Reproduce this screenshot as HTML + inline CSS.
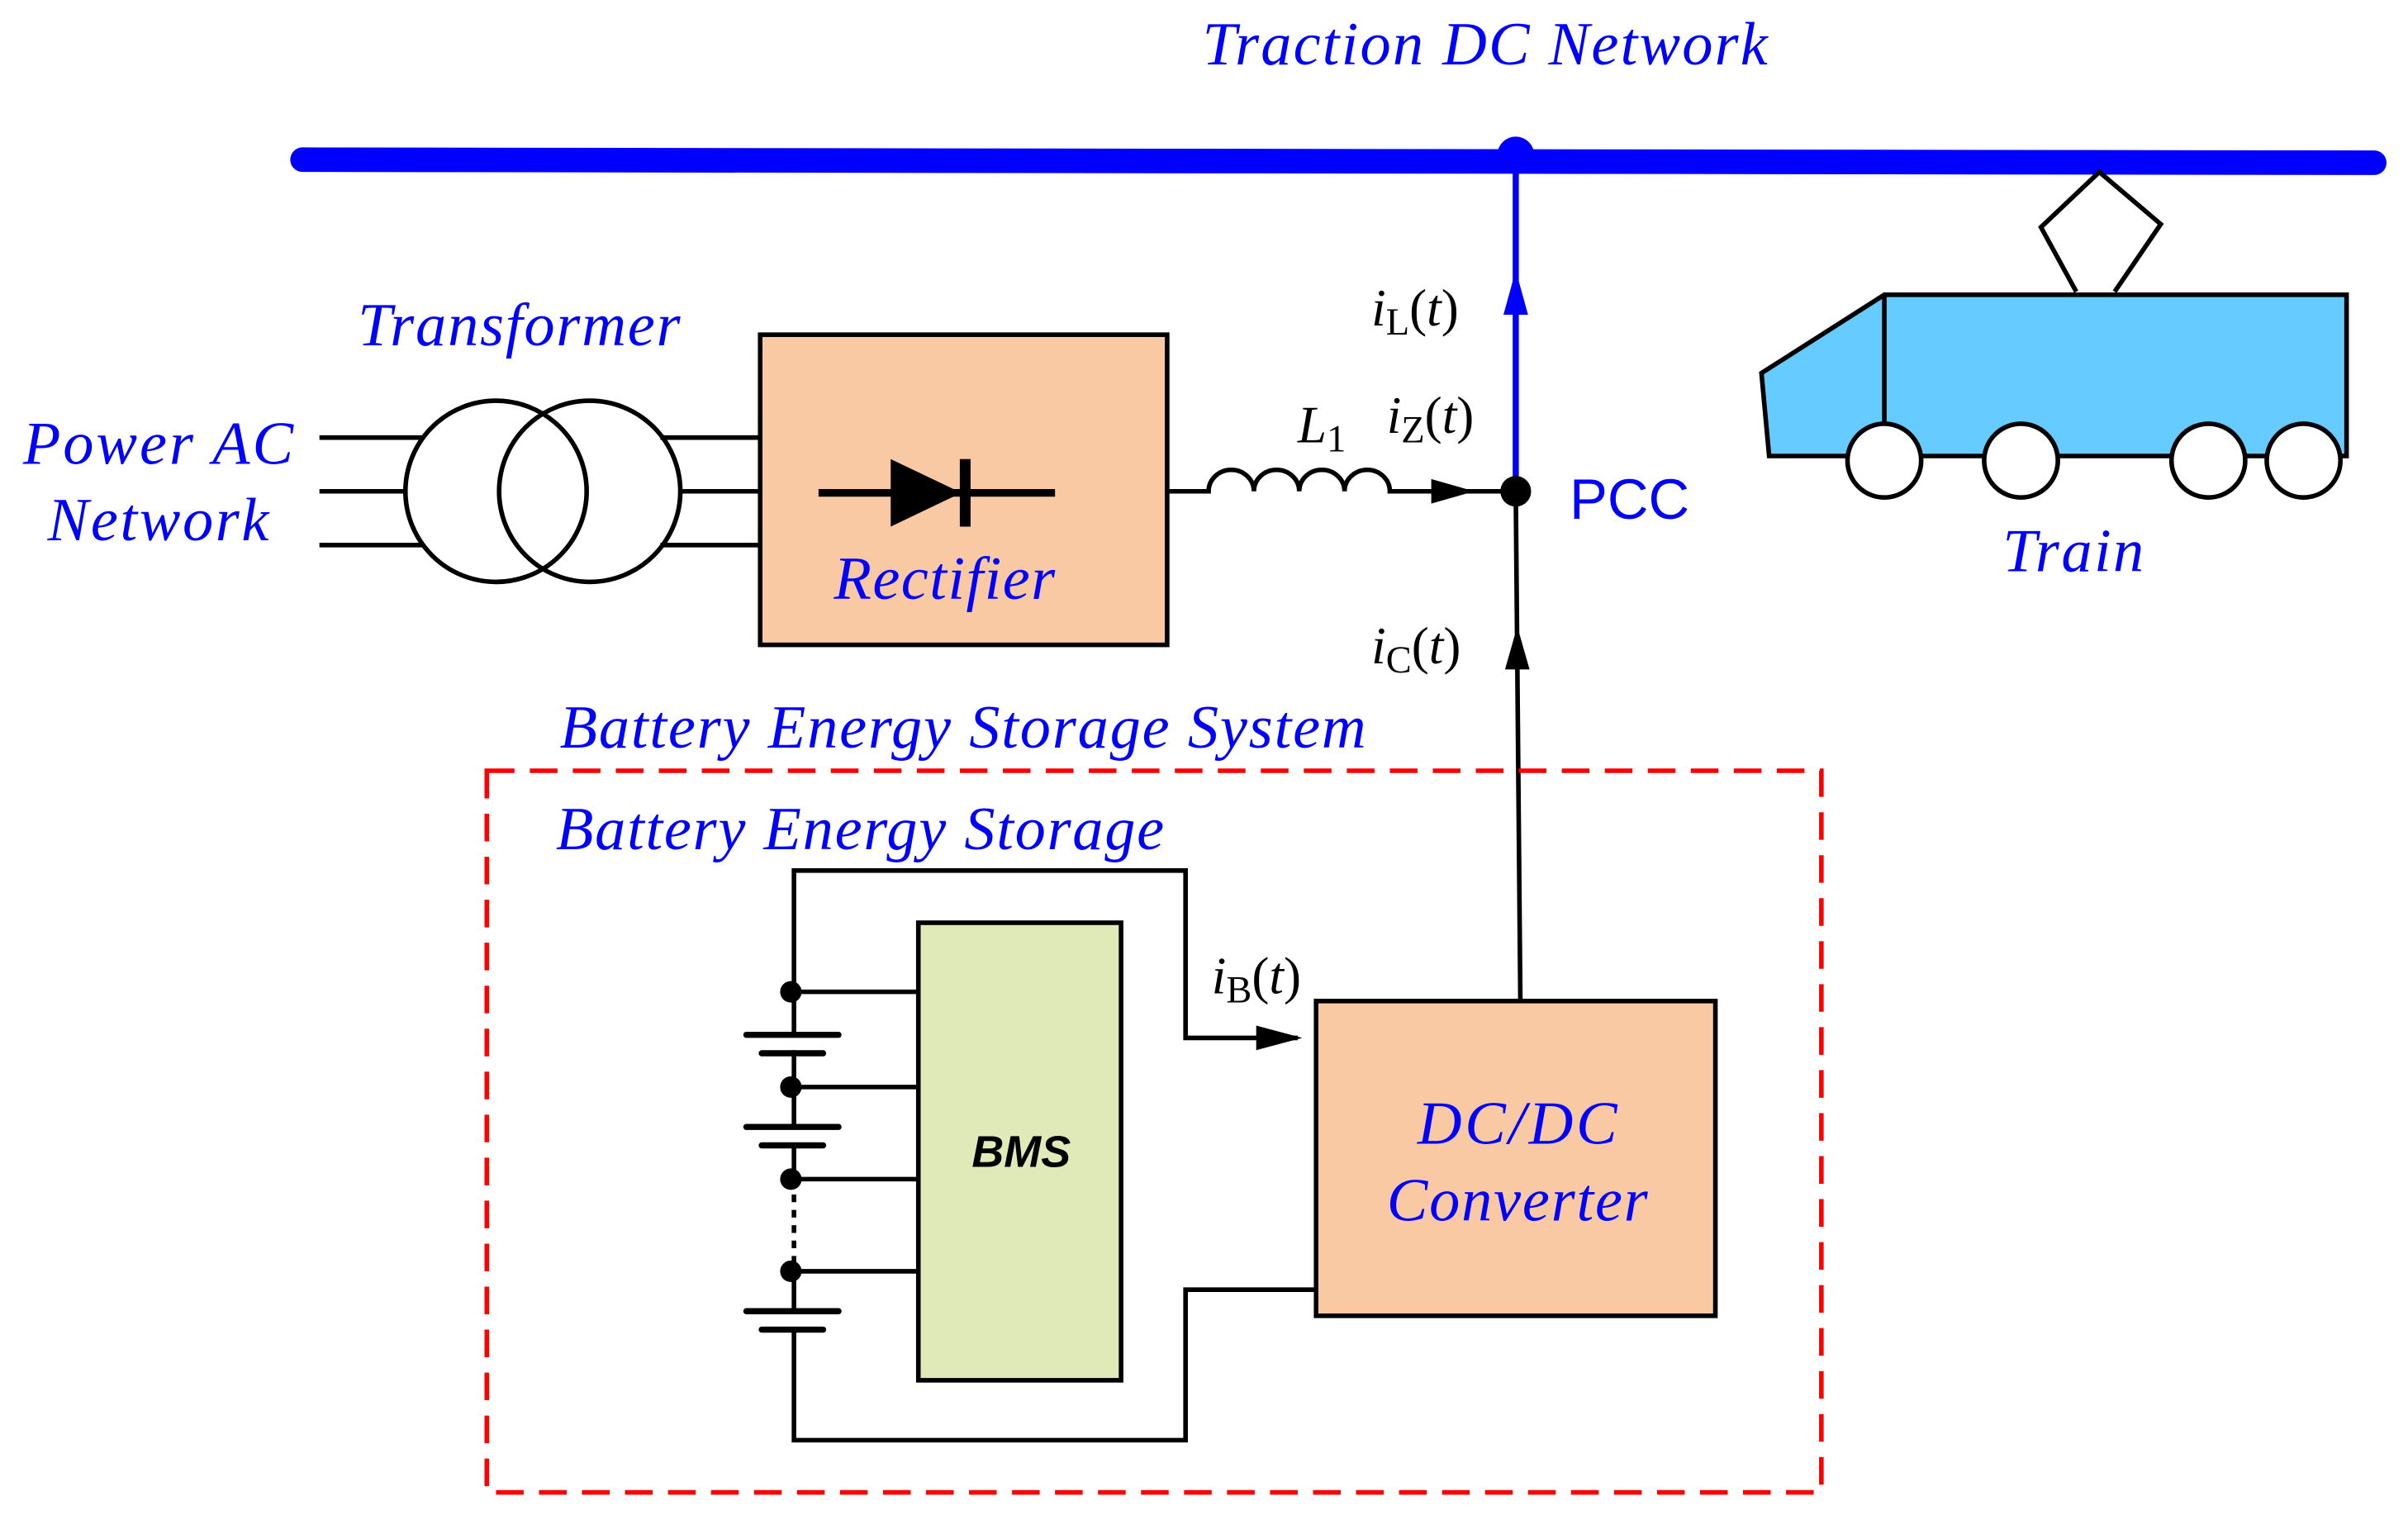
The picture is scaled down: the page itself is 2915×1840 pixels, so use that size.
<!DOCTYPE html>
<html><head><meta charset="utf-8"><style>html,body{margin:0;padding:0;background:#fff}svg{display:block}</style></head>
<body>
<svg width="2915" height="1840" viewBox="0 0 1568 990" preserveAspectRatio="none" xmlns="http://www.w3.org/2000/svg" font-family="Liberation Serif, serif">
<!-- bus -->
<line x1="197" y1="104" x2="1546" y2="106" stroke="#00f" stroke-width="16" stroke-linecap="round"/>
<circle cx="987" cy="101" r="12" fill="#00f"/>
<line x1="987" y1="101" x2="987" y2="320" stroke="#00f" stroke-width="4"/>
<path d="M987,176 L979,205 L995,205 z" fill="#00f"/>
<!-- train -->
<polyline points="1352,190 1329,148 1367,112 1407,146 1377,190" fill="#fff" stroke="#000" stroke-width="3"/>
<polygon points="1147,243 1227,192 1528,192 1528,297 1152,297" fill="#66ccff" stroke="#000" stroke-width="3"/>
<line x1="1227" y1="192" x2="1227" y2="297" stroke="#000" stroke-width="3"/>
<g fill="#fff" stroke="#000" stroke-width="3">
<circle cx="1227" cy="300" r="24"/><circle cx="1316" cy="300" r="24"/><circle cx="1438" cy="300" r="24"/><circle cx="1500" cy="300" r="24"/>
</g>
<!-- transformer -->
<g stroke="#000" stroke-width="3" fill="none">
<line x1="208" y1="285" x2="275" y2="285"/><line x1="208" y1="320" x2="265" y2="320"/><line x1="208" y1="355" x2="275" y2="355"/>
<line x1="430" y1="285" x2="495" y2="285"/><line x1="442" y1="320" x2="495" y2="320"/><line x1="430" y1="355" x2="495" y2="355"/>
<circle cx="323" cy="320" r="59"/><circle cx="384" cy="320" r="59"/>
</g>
<!-- rectifier -->
<rect x="495" y="218" width="265" height="202" fill="#f9c9a4" stroke="#000" stroke-width="3"/>
<line x1="533" y1="321" x2="687" y2="321" stroke="#000" stroke-width="5"/>
<path d="M580,299 L580,343 L626,321 z" fill="#000"/>
<rect x="625" y="299" width="7" height="44" fill="#000"/>
<!-- inductor -->
<g stroke="#000" stroke-width="3" fill="none">
<path d="M760,320 L787,320 a14.75,14 0 0 1 29.5,0 a14.75,14 0 0 1 29.5,0 a14.75,14 0 0 1 29.5,0 a14.75,14 0 0 1 29.5,0 L960,320"/>
<line x1="955" y1="320" x2="987" y2="320"/>
</g>
<path d="M960,320 L932,312 L932,328 z" fill="#000"/>
<circle cx="987" cy="320" r="10" fill="#000"/>
<g font-size="34" fill="#000">
<text x="845" y="288" font-style="italic">L<tspan font-style="normal" font-size="25" dy="6">1</tspan></text>
<text x="903" y="282"><tspan font-style="italic">i</tspan><tspan font-size="25" dy="6">Z</tspan><tspan dy="-6">(</tspan><tspan font-style="italic">t</tspan>)</text>
<text x="893" y="212"><tspan font-style="italic">i</tspan><tspan font-size="25" dy="6">L</tspan><tspan dy="-6">(</tspan><tspan font-style="italic">t</tspan>)</text>
<text x="893" y="432"><tspan font-style="italic">i</tspan><tspan font-size="25" dy="6">C</tspan><tspan dy="-6">(</tspan><tspan font-style="italic">t</tspan>)</text>
<text x="789" y="647"><tspan font-style="italic">i</tspan><tspan font-size="25" dy="6">B</tspan><tspan dy="-6">(</tspan><tspan font-style="italic">t</tspan>)</text>
</g>
<line x1="987" y1="320" x2="990" y2="652" stroke="#000" stroke-width="3"/>
<path d="M988,408 L980,436 L996,436 z" fill="#000"/>
<!-- BESS -->
<rect x="317" y="502" width="869" height="470" fill="none" stroke="#f00" stroke-width="3" stroke-dasharray="18,10"/>
<rect x="598" y="601" width="132" height="298" fill="#e0eab8" stroke="#000" stroke-width="3"/>
<text x="665" y="760" text-anchor="middle" font-family="Liberation Sans, sans-serif" font-weight="bold" font-style="italic" font-size="29">BMS</text>
<rect x="857" y="652" width="260" height="205" fill="#f9c9a4" stroke="#000" stroke-width="3"/>
<g stroke="#000" stroke-width="3" fill="none">
<polyline points="517,674 517,567 772,567 772,676 845,676"/>
<polyline points="517,866 517,938 772,938 772,840 857,840"/>
<line x1="517" y1="684" x2="517" y2="734"/>
<line x1="517" y1="746" x2="517" y2="768"/>
<line x1="517" y1="828" x2="517" y2="854"/>
<line x1="517" y1="768" x2="517" y2="828" stroke-dasharray="5,5"/>
<line x1="515" y1="646" x2="598" y2="646"/><line x1="515" y1="708" x2="598" y2="708"/>
<line x1="515" y1="768" x2="598" y2="768"/><line x1="515" y1="828" x2="598" y2="828"/>
</g>
<path d="M848,676 L818,668 L818,684 z" fill="#000"/>
<g stroke="#000" stroke-width="4" stroke-linecap="round">
<line x1="486" y1="674" x2="546" y2="674"/><line x1="496" y1="686" x2="536" y2="686"/>
<line x1="486" y1="734" x2="546" y2="734"/><line x1="496" y1="746" x2="536" y2="746"/>
<line x1="486" y1="854" x2="546" y2="854"/><line x1="496" y1="866" x2="536" y2="866"/>
</g>
<g fill="#000"><circle cx="515" cy="646" r="7"/><circle cx="515" cy="708" r="7"/><circle cx="515" cy="768" r="7"/><circle cx="515" cy="828" r="7"/></g>
<g fill="#00f" font-style="italic" font-size="40">
<text x="967" y="42" text-anchor="middle" textLength="368">Traction DC Network</text>
<text x="338" y="225" text-anchor="middle" textLength="210">Transformer</text>
<text x="103" y="302" text-anchor="middle" textLength="176">Power AC</text>
<text x="103" y="352" text-anchor="middle" textLength="144">Network</text>
<text x="615" y="390" text-anchor="middle" textLength="144">Rectifier</text>
<text x="1350" y="372" text-anchor="middle" textLength="92">Train</text>
<text x="627" y="487" text-anchor="middle" textLength="525">Battery Energy Storage System</text>
<text x="560" y="553" text-anchor="middle" textLength="396">Battery Energy Storage</text>
<text x="988" y="745" text-anchor="middle" textLength="130">DC/DC</text>
<text x="988" y="795" text-anchor="middle" textLength="170">Converter</text>
</g>
<text x="1022" y="338" fill="#00f" font-size="37" font-family="Liberation Sans, sans-serif">PCC</text>
</svg>
</body></html>
